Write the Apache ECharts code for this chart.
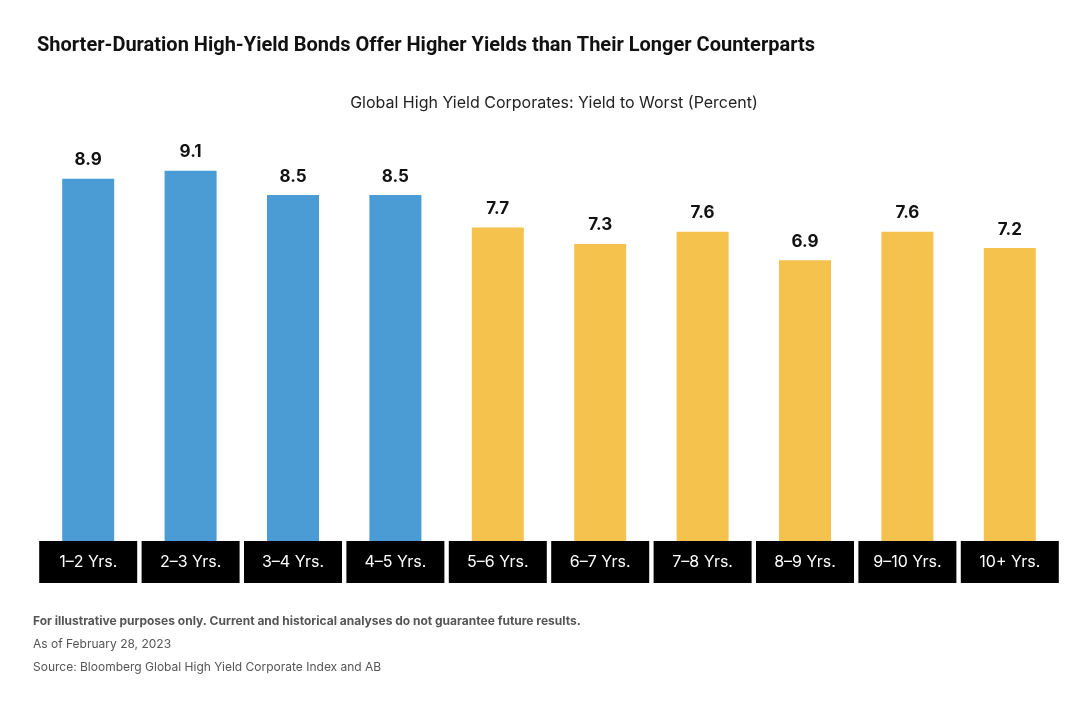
<!DOCTYPE html>
<html><head><meta charset="utf-8">
<script src="https://cdn.jsdelivr.net/npm/echarts@6/dist/echarts.min.js"></script>
<style>html,body{margin:0;background:#fff}#c{width:1084px;height:704px}</style>
</head><body><div id="c"></div>
<script>
const categories = ["1\u20132 Yrs.","2\u20133 Yrs.","3\u20134 Yrs.","4\u20135 Yrs.","5\u20136 Yrs.","6\u20137 Yrs.","7\u20138 Yrs.","8\u20139 Yrs.","9\u201310 Yrs.","10+ Yrs."];
const yields = [8.9, 9.1, 8.5, 8.5, 7.7, 7.3, 7.6, 6.9, 7.6, 7.2];
const shortCount = 4;
const blue = "#4B9BD5", yellow = "#F5C24E";
const chart = echarts.init(document.getElementById('c'));
chart.setOption({
  animation:false,
  title:[
    {text:"Shorter-Duration High-Yield Bonds Offer Higher Yields than Their Longer Counterparts",left:32,top:31,
     textStyle:{fontFamily:"Roboto",fontWeight:"bold",fontSize:20,color:"#111"}},
    {text:"Global High Yield Corporates: Yield to Worst (Percent)",left:549,textAlign:"center",top:90,
     textStyle:{fontFamily:"Inter",fontWeight:"normal",fontSize:16,color:"#222"}}
  ],
  graphic:[
    {type:"text",left:33,top:615,style:{text:"For illustrative purposes only. Current and historical analyses do not guarantee future results.",font:"bold 12px Inter",fill:"#555"}},
    {type:"text",left:33,top:638,style:{text:"As of February 28, 2023",font:"12px Inter",fill:"#555"}},
    {type:"text",left:33,top:661,style:{text:"Source: Bloomberg Global High Yield Corporate Index and AB",font:"12px Inter",fill:"#555"}}
  ],
  grid:{left:37,right:23,top:134,bottom:163},
  xAxis:{type:"category",data:categories,axisLine:{show:false},axisTick:{show:false},
    axisLabel:{margin:0,color:"#fff",fontFamily:"Inter",fontSize:16,backgroundColor:"#000",
      width:98,height:42,lineHeight:42,align:"center",interval:0}},
  yAxis:{type:"value",min:0,max:10,show:false,splitLine:{show:false}},
  series:[{type:"bar",barWidth:52,
    data:yields.map((v,i)=>({value:v,itemStyle:{color:i<shortCount?blue:yellow}})),
    label:{show:true,position:"top",distance:10,formatter:p=>p.value.toFixed(1),
      fontFamily:"Inter",fontWeight:"bold",fontSize:17,color:"#111"}}]
});
</script></body></html>
